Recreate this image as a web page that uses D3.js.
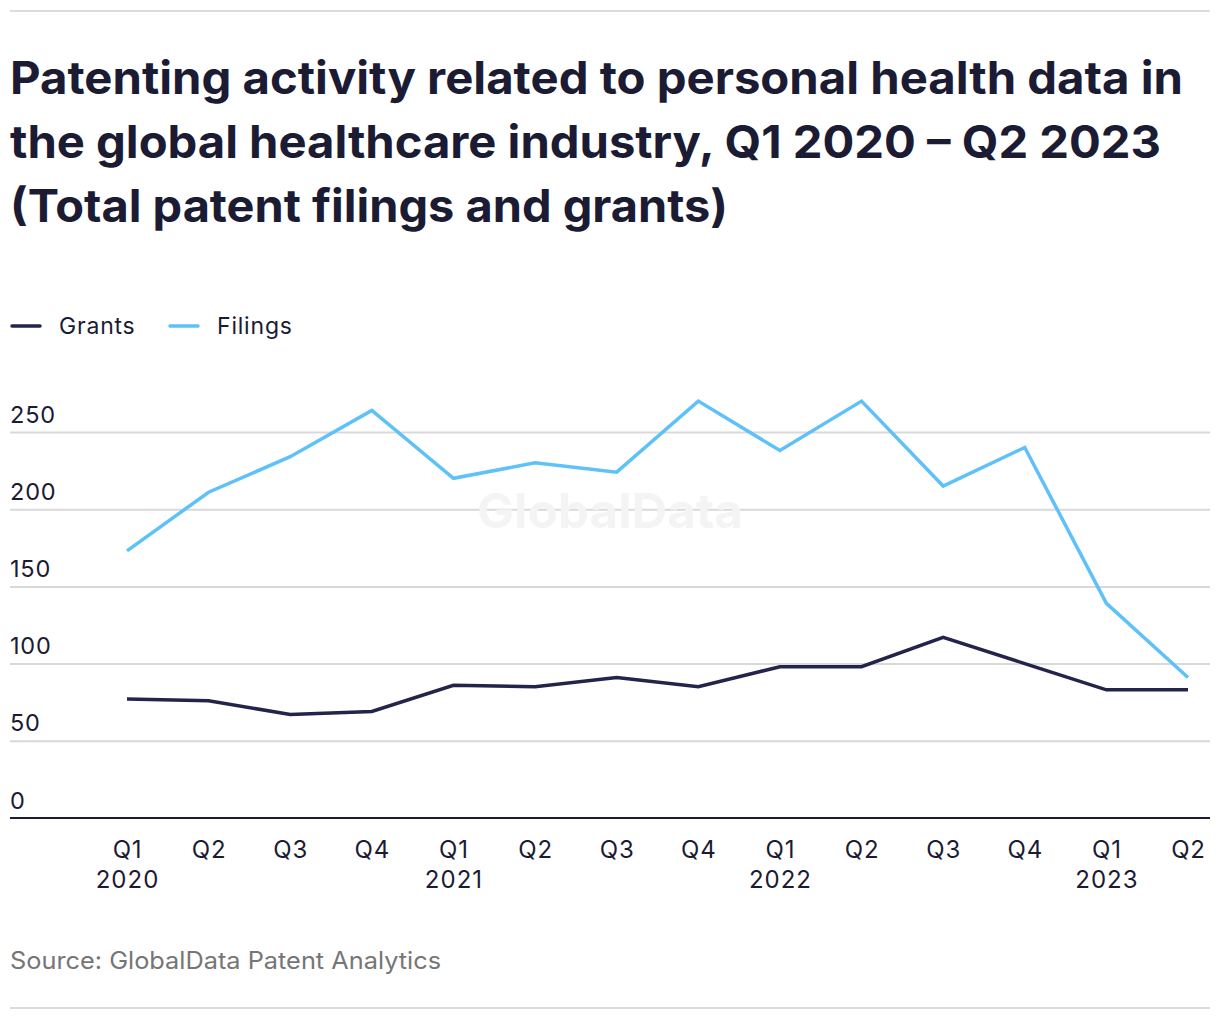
<!DOCTYPE html>
<html>
<head>
<meta charset="utf-8">
<script src="https://cdn.jsdelivr.net/npm/d3@7"></script>
<style>
  html, body { margin: 0; padding: 0; background: #fff; }
  svg { display: block; font-family: Inter, "Noto Sans", sans-serif; }
</style>
</head>
<body>
<svg id="chart" width="1220" height="1020"></svg>
<script>
const quarters = ["Q1","Q2","Q3","Q4","Q1","Q2","Q3","Q4","Q1","Q2","Q3","Q4","Q1","Q2"];
const years = ["2020","","","","2021","","","","2022","","","","2023",""];
const grants = [77, 76, 67, 69, 86, 85, 91, 85, 98, 98, 117, 100, 83, 83];
const filings = [173, 211, 234, 264, 220, 230, 224, 270, 238, 270, 215, 240, 139, 91];
const yTicks = [0, 50, 100, 150, 200, 250];
const seriesNames = ["Grants", "Filings"];
const seriesColors = ["#23244a", "#5ec1f8"];
const titleLines = [
  "Patenting activity related to personal health data in",
  "the global healthcare industry, Q1 2020 \u2013 Q2 2023",
  "(Total patent filings and grants)"
];

const svg = d3.select("#chart");
const dark = "#1b1b33";

// top & bottom rules
svg.append("line").attr("x1", 10).attr("x2", 1210).attr("y1", 11).attr("y2", 11)
  .attr("stroke", "#dcdcdc").attr("stroke-width", 2);
svg.append("line").attr("x1", 10).attr("x2", 1210).attr("y1", 1008).attr("y2", 1008)
  .attr("stroke", "#dcdcdc").attr("stroke-width", 2);

// title
const titleWidths = [1173, 1151, 718];
svg.append("g").selectAll("text").data(titleLines).join("text")
  .attr("x", 10).attr("y", (d, i) => 94 + i * 64)
  .attr("font-size", 45).attr("font-weight", 700).attr("fill", dark)
  .attr("textLength", (d, i) => titleWidths[i]).attr("lengthAdjust", "spacingAndGlyphs")
  .text(d => d);

// legend
const legendX = [10, 168];
const lg = svg.append("g").selectAll("g").data(seriesNames).join("g")
  .attr("transform", (d, i) => `translate(${legendX[i]},326)`);
lg.append("line").attr("x1", 2).attr("x2", 30).attr("y1", 0).attr("y2", 0)
  .attr("stroke", (d, i) => seriesColors[i]).attr("stroke-width", 3.5).attr("stroke-linecap", "round");
lg.append("text").attr("x", 49).attr("y", 8).attr("font-size", 23).attr("fill", dark)
  .attr("letter-spacing", 0.8).text(d => d);

// scales
const x = d3.scalePoint().domain(d3.range(quarters.length)).range([127, 1188]);
const y = d3.scaleLinear().domain([0, 250]).range([818, 432]);

// gridlines and y labels
const yAxis = d3.axisLeft(y).tickValues(yTicks).tickSize(0).tickFormat(d3.format("d"));
const gy = svg.append("g").call(yAxis);
gy.select(".domain").remove();
gy.selectAll(".tick text").remove();
gy.selectAll(".tick").filter(d => d !== 0).append("line")
  .attr("x1", 10).attr("x2", 1210).attr("stroke", "#d9d9d9").attr("stroke-width", 2);
gy.selectAll(".tick").append("text")
  .attr("x", 10).attr("y", -10).attr("text-anchor", "start")
  .attr("font-size", 23.5).attr("fill", dark).attr("font-family", "Inter, sans-serif")
  .attr("letter-spacing", 0.8)
  .text(d => d);

// watermark
svg.append("text").attr("x", 610).attr("y", 528).attr("text-anchor", "middle")
  .attr("font-size", 48).attr("font-weight", 700).attr("fill", "#f4f4f4")
  .attr("textLength", 266).attr("lengthAdjust", "spacingAndGlyphs")
  .text("GlobalData");

// x axis baseline
svg.append("line").attr("x1", 10).attr("x2", 1210).attr("y1", y(0)).attr("y2", y(0))
  .attr("stroke", dark).attr("stroke-width", 2);

// x labels
const xAxis = d3.axisBottom(x).tickSize(0).tickFormat(() => "");
const gx = svg.append("g").attr("transform", `translate(0,${y(0)})`).call(xAxis);
gx.select(".domain").remove();
gx.selectAll(".tick text").remove();
const tk = gx.selectAll(".tick");
tk.append("text").attr("y", 40).attr("text-anchor", "middle").attr("font-size", 24)
  .attr("fill", dark).attr("font-family", "Inter, sans-serif").attr("letter-spacing", 0.8)
  .text(i => quarters[i]);
tk.append("text").attr("y", 70).attr("text-anchor", "middle").attr("font-size", 24)
  .attr("fill", dark).attr("font-family", "Inter, sans-serif").attr("letter-spacing", 1)
  .text(i => years[i]);

// lines
const line = d3.line().x((d, i) => x(i)).y(d => y(d));
[grants, filings].forEach((s, k) => {
  svg.append("path").datum(s).attr("d", line).attr("fill", "none")
    .attr("stroke", seriesColors[k]).attr("stroke-width", 3.5)
    .attr("stroke-linejoin", "miter");
});

// source
svg.append("text").attr("x", 10).attr("y", 969).attr("font-size", 24).attr("fill", "#767676")
  .attr("textLength", 431).attr("lengthAdjust", "spacingAndGlyphs")
  .text("Source: GlobalData Patent Analytics");
</script>
</body>
</html>
